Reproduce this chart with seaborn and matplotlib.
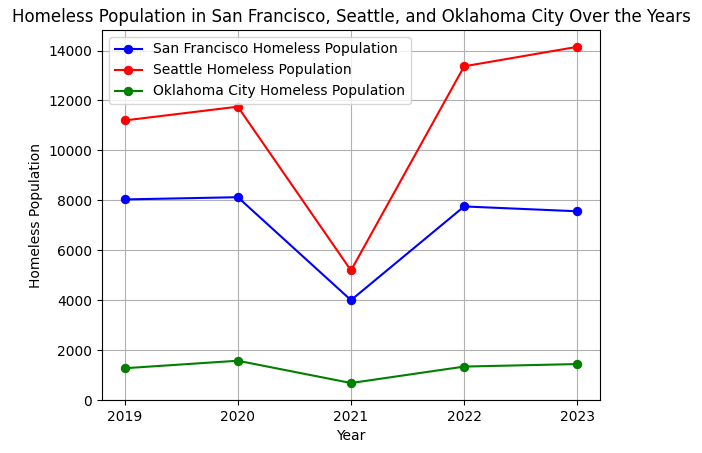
import matplotlib
matplotlib.use("Agg")
import matplotlib.pyplot as plt
import seaborn as sns
import pandas as pd

years = [2019, 2020, 2021, 2022, 2023]
sf_values = [8035, 8124, 4000, 7754, 7560]
seattle_values = [11199, 11751, 5190, 13368, 14149]
okc_values = [1273, 1573, 680, 1339, 1440]

series = [
    ("San Francisco Homeless Population", sf_values, "blue"),
    ("Seattle Homeless Population", seattle_values, "red"),
    ("Oklahoma City Homeless Population", okc_values, "green"),
]

fig = plt.figure(figsize=(7.02, 4.53), dpi=100)
ax = fig.add_axes([102 / 702, 1 - 400 / 453, 498 / 702, 370 / 453])

for label, vals, color in series:
    df = pd.DataFrame({"Year": years, "Value": vals})
    sns.lineplot(data=df, x="Year", y="Value", ax=ax, marker="o", color=color,
                 markeredgecolor=color, markersize=6, linewidth=1.5, label=label)

ax.set_ylim(bottom=0)
ax.set_xticks(years)
ax.set_xticklabels([str(y) for y in years])
ax.set_xlabel("Year")
ax.set_ylabel("Homeless Population")
ax.set_title("Homeless Population in San Francisco, Seattle, and Oklahoma City Over the Years")
ax.grid(True)
ax.legend(loc="upper left")

fig.savefig("out.png", dpi=100)
